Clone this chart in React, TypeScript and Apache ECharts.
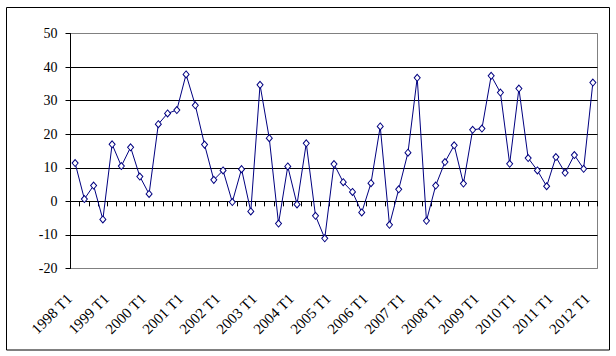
import React, { useEffect, useRef } from "react";
import * as echarts from "echarts";

const categories: string[] = [
  "1998 T1", "1998 T2", "1998 T3", "1998 T4",
  "1999 T1", "1999 T2", "1999 T3", "1999 T4",
  "2000 T1", "2000 T2", "2000 T3", "2000 T4",
  "2001 T1", "2001 T2", "2001 T3", "2001 T4",
  "2002 T1", "2002 T2", "2002 T3", "2002 T4",
  "2003 T1", "2003 T2", "2003 T3", "2003 T4",
  "2004 T1", "2004 T2", "2004 T3", "2004 T4",
  "2005 T1", "2005 T2", "2005 T3", "2005 T4",
  "2006 T1", "2006 T2", "2006 T3", "2006 T4",
  "2007 T1", "2007 T2", "2007 T3", "2007 T4",
  "2008 T1", "2008 T2", "2008 T3", "2008 T4",
  "2009 T1", "2009 T2", "2009 T3", "2009 T4",
  "2010 T1", "2010 T2", "2010 T3", "2010 T4",
  "2011 T1", "2011 T2", "2011 T3", "2011 T4",
  "2012 T1",
];

const values: number[] = [
  11.4, 0.7, 4.7, -5.4, 17.0, 10.5, 16.1, 7.4,
  2.2, 23.0, 26.2, 27.2, 37.8, 28.6, 16.9, 6.4,
  9.2, -0.2, 9.6, -3.0, 34.7, 18.8, -6.6, 10.4,
  -0.9, 17.3, -4.3, -11.0, 11.1, 5.7, 2.8, -3.3,
  5.4, 22.3, -7.0, 3.6, 14.5, 36.8, -5.8, 4.7,
  11.7, 16.7, 5.3, 21.3, 21.7, 37.4, 32.4, 11.2,
  33.6, 12.9, 9.2, 4.5, 13.2, 8.5, 13.8, 9.7,
  35.4,
];

const yMin = -20;
const yMax = 50;
const yStep = 10;

const FONT = "Liberation Serif";

export default function App() {
  const ref = useRef<HTMLDivElement>(null);
  useEffect(() => {
    if (!ref.current) return;
    const chart = echarts.init(ref.current, null, { renderer: "svg" });
    const gridColors = ["#808080", "#000", "#000", "#000", "#000", "#000", "#000", "#808080"];
    chart.setOption({
      animation: false,
      backgroundColor: "#fff",
      graphic: [
        {
          type: "rect",
          shape: { x: 6.5, y: 7.5, width: 603, height: 342.5 },
          style: { fill: "none", stroke: "#000", lineWidth: 1 },
          z: 100,
        },
      ],
      grid: {
        left: 70.5,
        right: 18.5,
        top: 33.5,
        bottom: 87.5,
        show: true,
        borderColor: "#808080",
        borderWidth: 1,
        backgroundColor: "transparent",
      },
      xAxis: [
        {
          type: "category",
          data: categories,
          boundaryGap: true,
          position: "bottom",
          axisLine: { show: false, onZero: false },
          axisTick: { show: false },
          axisLabel: {
            interval: 3,
            rotate: 45,
            margin: 22,
            padding: [0, 8, 0, 0],
            fontFamily: FONT,
            fontSize: 15,
            color: "#000",
          },
          splitLine: { show: false },
        },
        {
          type: "category",
          data: categories,
          boundaryGap: true,
          position: "bottom",
          axisLine: { show: true, onZero: true, onZeroAxisIndex: 0, lineStyle: { color: "#000", width: 1 } },
          axisTick: { show: true, interval: 0, inside: false, length: 5, lineStyle: { color: "#000" } },
          axisLabel: { show: false },
          splitLine: { show: false },
        },
      ],
      yAxis: {
        type: "value",
        min: yMin,
        max: yMax,
        interval: yStep,
        axisLine: { show: true, lineStyle: { color: "#000", width: 1 } },
        axisTick: { show: true, length: 5, lineStyle: { color: "#000" } },
        axisLabel: { margin: 13, fontFamily: FONT, fontSize: 14, color: "#000" },
        splitLine: { show: true, lineStyle: { color: gridColors, width: 1 } },
      },
      series: [
        {
          type: "line",
          xAxisIndex: 0,
          data: values,
          symbol: "diamond",
          symbolSize: [6, 7],
          showAllSymbol: true,
          lineStyle: { color: "#000080", width: 1 },
          itemStyle: { color: "#fff", borderColor: "#000080", borderWidth: 1 },
          z: 10,
        },
      ],
    });
    return () => chart.dispose();
  }, []);
  return (
    <div
      ref={ref}
      style={{ position: "fixed", left: 0, top: 0, width: 616, height: 356, background: "#fff" }}
    />
  );
}
